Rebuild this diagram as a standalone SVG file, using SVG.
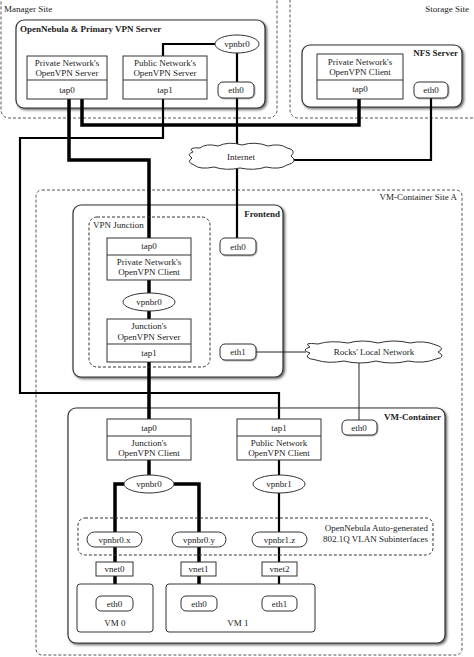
<svg xmlns="http://www.w3.org/2000/svg" width="474" height="657" viewBox="0 0 474 657">
<defs>
<filter id="sh" x="-5%" y="-5%" width="115%" height="115%">
<feDropShadow dx="1.5" dy="1.5" stdDeviation="1" flood-color="#222" flood-opacity="0.7"/>
</filter>
<filter id="sh2" x="-10%" y="-10%" width="130%" height="130%">
<feDropShadow dx="0.8" dy="0.8" stdDeviation="0.6" flood-color="#444" flood-opacity="0.5"/>
</filter>
</defs>
<style>
text{font-family:"Liberation Serif","Times New Roman",serif;font-size:9px;fill:#222}
.b{font-weight:bold}
.m{text-anchor:middle}
.e{text-anchor:end}
.site{fill:none;stroke:#555;stroke-width:1;stroke-dasharray:3,2}
.cont{fill:#fff;stroke:#333;stroke-width:1.2}
.box{fill:#fff;stroke:#333;stroke-width:1}
.pill{fill:#fff;stroke:#333;stroke-width:1}
.dash{fill:none;stroke:#333;stroke-width:1;stroke-dasharray:3,2}
.thick{fill:none;stroke:#000;stroke-width:3.5}
.med{fill:none;stroke:#000;stroke-width:2.2}
.thin{fill:none;stroke:#222;stroke-width:1}
.cloud{fill:#fff;stroke:#333;stroke-width:1}
</style>

<g id="sites">
<rect class="site" x="1" y="-10" width="276" height="128" rx="8"/>
<text x="4" y="12">Manager Site</text>
<rect class="site" x="290" y="-10" width="200" height="128" rx="8"/>
<text class="e" x="469" y="12">Storage Site</text>
<rect class="site" x="36" y="190" width="426" height="465" rx="6"/>
<text class="e" x="457" y="200">VM-Container Site A</text>
</g>

<g id="containers">
<rect class="cont" x="16" y="20" width="249" height="88" rx="8" filter="url(#sh)"/>
<text class="b" x="20" y="32">OpenNebula &amp; Primary VPN Server</text>
<rect class="cont" x="302" y="45" width="160" height="62" rx="8" filter="url(#sh)"/>
<text class="b e" x="458" y="56">NFS Server</text>
<rect class="cont" x="73" y="205" width="210" height="172" rx="8" filter="url(#sh)"/>
<text class="b e" x="280" y="217">Frontend</text>
<rect class="cont" x="68" y="408" width="377" height="235" rx="8" filter="url(#sh)"/>
<text class="b e" x="441" y="420">VM-Container</text>
</g>

<g id="connectors">
<path class="thick" d="M69,99 V160 H149 V238"/>
<path class="thick" d="M82,99 V125 H359 V99"/>
<path class="med" d="M163,99 V138 H20 V393 H279 V419"/>
<path class="med" d="M215,44 H163 V56"/>
<path class="med" d="M237,53 V146"/>
<path class="med" d="M237,168 V238"/>
<path class="med" d="M431,98 V160 H292"/>
<path class="thick" d="M149,280 V293 M149,311 V319 M149,362 V419"/>
<path class="thin" d="M256,352 H306"/>
<path class="thin" d="M359,361 V420"/>
<path class="thick" d="M149,460 V475 M124,484 H115 V532 M174,484 H199 V532"/>
<path class="thick" d="M115,547 V562 M115,576 V596 M199,547 V562 M199,576 V596"/>
<path class="med" d="M279,460 V475 M279,493 V532 M279,547 V562 M279,576 V596"/>
</g>

<g id="priv-server">
<rect class="box" x="27" y="56" width="80" height="43"/>
<line x1="27" y1="80" x2="107" y2="80" stroke="#333" stroke-width="1"/>
<text class="m" x="67" y="66">Private Network's</text>
<text class="m" x="67" y="76">OpenVPN Server</text>
<text class="m" x="67" y="93">tap0</text>
</g>
<g id="pub-server">
<rect class="box" x="123" y="56" width="84" height="43"/>
<line x1="123" y1="80" x2="207" y2="80" stroke="#333" stroke-width="1"/>
<text class="m" x="165" y="66">Public Network's</text>
<text class="m" x="165" y="76">OpenVPN Server</text>
<text class="m" x="165" y="93">tap1</text>
</g>
<g id="mgr-vpnbr0">
<ellipse class="pill" cx="237" cy="44" rx="22" ry="9"/>
<text class="m" x="237" y="47">vpnbr0</text>
</g>
<g id="mgr-eth0">
<rect class="pill" x="218" y="82" width="36" height="16" rx="5" filter="url(#sh2)"/>
<text class="m" x="236" y="93">eth0</text>
</g>

<g id="nfs-client">
<rect class="box" x="317" y="54" width="86" height="45"/>
<line x1="317" y1="80" x2="403" y2="80" stroke="#333" stroke-width="1"/>
<text class="m" x="360" y="65">Private Network's</text>
<text class="m" x="360" y="75">OpenVPN Client</text>
<text class="m" x="360" y="92">tap0</text>
</g>
<g id="nfs-eth0">
<rect class="pill" x="414" y="82" width="34" height="16" rx="5" filter="url(#sh2)"/>
<text class="m" x="431" y="93">eth0</text>
</g>

<g id="internet">
<path class="cloud" d="M193,152 Q187,147 200,148 Q206,143 218,146 Q229,141 242,145 Q255,141 268,146 Q280,143 287,148 Q297,150 291,156 Q299,162 287,165 Q280,170 266,167 Q254,171 240,168 Q226,171 214,167 Q200,170 194,165 Q186,162 192,158 Q186,154 193,152 Z"/>
<text class="m" x="241" y="160">Internet</text>
</g>

<g id="vpn-junction">
<rect class="dash" x="89" y="217" width="121" height="150" rx="8"/>
<text x="93" y="228">VPN Junction</text>
</g>
<g id="junction-client">
<rect class="box" x="107" y="238" width="84" height="42"/>
<line x1="107" y1="255" x2="191" y2="255" stroke="#333" stroke-width="1"/>
<text class="m" x="149" y="249">tap0</text>
<text class="m" x="149" y="265">Private Network's</text>
<text class="m" x="149" y="275">OpenVPN Client</text>
</g>
<g id="fe-vpnbr0">
<ellipse class="pill" cx="149" cy="302" rx="26" ry="9"/>
<text class="m" x="149" y="305">vpnbr0</text>
</g>
<g id="junction-server">
<rect class="box" x="107" y="319" width="84" height="43"/>
<line x1="107" y1="344" x2="191" y2="344" stroke="#333" stroke-width="1"/>
<text class="m" x="149" y="329">Junction's</text>
<text class="m" x="149" y="340">OpenVPN Server</text>
<text class="m" x="149" y="356">tap1</text>
</g>
<g id="fe-eth0">
<rect class="pill" x="220" y="238" width="36" height="17" rx="5" filter="url(#sh2)"/>
<text class="m" x="238" y="250">eth0</text>
</g>
<g id="fe-eth1">
<rect class="pill" x="220" y="344" width="36" height="16" rx="5" filter="url(#sh2)"/>
<text class="m" x="238" y="355">eth1</text>
</g>

<g id="rocks">
<path class="cloud" d="M310,347 Q302,342 318,344 Q330,340 348,343 Q362,339 378,343 Q394,339 410,343 Q424,340 436,345 Q446,348 438,352 Q447,357 436,359 Q424,364 408,361 Q392,365 376,361 Q360,365 344,361 Q328,364 316,360 Q302,358 310,353 Q300,350 310,347 Z"/>
<text class="m" x="374" y="355">Rocks' Local Network</text>
</g>

<g id="vm-eth0">
<rect class="pill" x="342" y="420" width="35" height="15" rx="5" filter="url(#sh2)"/>
<text class="m" x="359" y="431">eth0</text>
</g>
<g id="vm-junction-client">
<rect class="box" x="107" y="419" width="84" height="41"/>
<line x1="107" y1="436" x2="191" y2="436" stroke="#333" stroke-width="1"/>
<text class="m" x="149" y="431">tap0</text>
<text class="m" x="149" y="446">Junction's</text>
<text class="m" x="149" y="456">OpenVPN Client</text>
</g>
<g id="vm-public-client">
<rect class="box" x="237" y="419" width="84" height="41"/>
<line x1="237" y1="436" x2="321" y2="436" stroke="#333" stroke-width="1"/>
<text class="m" x="279" y="431">tap1</text>
<text class="m" x="279" y="446">Public Network</text>
<text class="m" x="279" y="456">OpenVPN Client</text>
</g>
<g id="vm-vpnbr0">
<ellipse class="pill" cx="149" cy="484" rx="25" ry="9"/>
<text class="m" x="149" y="487">vpnbr0</text>
</g>
<g id="vm-vpnbr1">
<ellipse class="pill" cx="279" cy="484" rx="26" ry="9"/>
<text class="m" x="279" y="487">vpnbr1</text>
</g>

<g id="vlan">
<rect class="dash" x="78" y="518" width="355" height="37" rx="7"/>
<text class="e" x="428" y="531">OpenNebula Auto-generated</text>
<text class="e" x="428" y="542">802.1Q VLAN Subinterfaces</text>
</g>
<g id="vpnbr0x">
<rect class="pill" x="87" y="532" width="55" height="15" rx="7.5"/>
<text class="m" x="114.5" y="543">vpnbr0.x</text>
</g>
<g id="vpnbr0y">
<rect class="pill" x="172" y="532" width="54" height="15" rx="7.5"/>
<text class="m" x="199" y="543">vpnbr0.y</text>
</g>
<g id="vpnbr1z">
<rect class="pill" x="252" y="532" width="55" height="15" rx="7.5"/>
<text class="m" x="279.5" y="543">vpnbr1.z</text>
</g>
<g id="vnet0">
<rect class="box" x="96" y="562" width="37" height="14"/>
<text class="m" x="114.5" y="572">vnet0</text>
</g>
<g id="vnet1">
<rect class="box" x="181" y="562" width="35" height="14"/>
<text class="m" x="198.5" y="572">vnet1</text>
</g>
<g id="vnet2">
<rect class="box" x="262" y="562" width="35" height="14"/>
<text class="m" x="279.5" y="572">vnet2</text>
</g>
<g id="vm0">
<rect class="box" x="77" y="584" width="76" height="48" rx="3"/>
<text class="m" x="115" y="626">VM 0</text>
</g>
<g id="vm1">
<rect class="box" x="166" y="584" width="149" height="48" rx="3"/>
<text class="m" x="238" y="626">VM 1</text>
</g>
<g id="vm0-eth0">
<rect class="pill" x="96" y="596" width="37" height="15" rx="5"/>
<text class="m" x="114.5" y="606.5">eth0</text>
</g>
<g id="vm1-eth0">
<rect class="pill" x="181" y="596" width="36" height="15" rx="5"/>
<text class="m" x="199" y="606.5">eth0</text>
</g>
<g id="vm1-eth1">
<rect class="pill" x="262" y="596" width="35" height="15" rx="5"/>
<text class="m" x="279.5" y="606.5">eth1</text>
</g>
</svg>
